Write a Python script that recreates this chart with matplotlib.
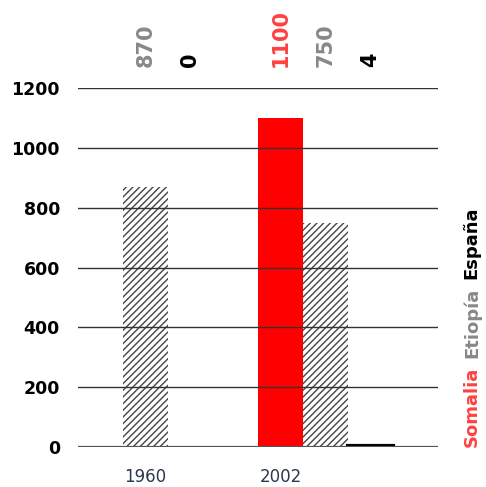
import matplotlib.pyplot as plt

# data
years = ["1960", "2002"]
countries = ["Somalia", "Etiopía", "España"]
values = {
    "1960": [None, 870, 0],  # no Somalia bar in 1960
    "2002": [1100, 750, 4],
}
yticks = [0, 200, 400, 600, 800, 1000, 1200]

bar_face = {"Somalia": "#ff0000", "Etiopía": "white", "España": "black"}
label_color = {"Somalia": "#ff4040", "Etiopía": "#888888", "España": "black"}

plt.rcParams["hatch.linewidth"] = 1.0

fig = plt.figure(figsize=(4.86, 4.87), dpi=100)
ax = fig.add_axes([0.1605, 0.0821, 0.7407, 0.7372])

group_start = [0.5, 4.5]
tick_pos = []
for g, year in enumerate(years):
    first = None
    for i, country in enumerate(countries):
        v = values[year][i]
        if v is None:
            continue
        x = group_start[g] + i
        if first is None:
            first = x
        if country == "Etiopía":
            ax.bar(x, v, width=1.0, color="white", edgecolor="#444444",
                   linewidth=0, hatch="/////", zorder=2)
        else:
            lw = 3 if (country == "España" and v > 0) else 0
            ax.bar(x, v, width=1.0, color=bar_face[country],
                   edgecolor=bar_face[country], linewidth=lw, zorder=2)
        # value label above the plot
        ax.annotate(str(v), xy=(x, 1.058), xycoords=("data", "axes fraction"),
                    rotation=90, ha="center", va="bottom", fontsize=15,
                    fontweight="bold", color=label_color[country],
                    annotation_clip=False)
    tick_pos.append(first)

# grid lines
for t in yticks:
    if t == 0:
        ax.axhline(t, color="#555555", lw=1.6, zorder=3)
    else:
        ax.axhline(t, color="#333333", lw=1.0, zorder=3)

ax.set_xlim(0, 8)
ax.set_ylim(0, 1200)
ax.set_yticks(yticks)
ax.set_yticklabels([str(t) for t in yticks], fontsize=12.5, fontweight="bold")
ax.set_xticks(tick_pos)
ax.set_xticklabels(years, fontsize=12, color="#2b3a4a")
ax.tick_params(axis="y", length=0, pad=13)
ax.tick_params(axis="x", length=0, pad=15)
for s in ax.spines.values():
    s.set_visible(False)

# legend written vertically on the right
prev = ax.annotate("Somalia", xy=(1.094, 0.0), xycoords="axes fraction",
                   rotation=90, ha="center", va="bottom", fontsize=13,
                   fontweight="bold", color=label_color["Somalia"],
                   annotation_clip=False)
for country in countries[1:]:
    prev = ax.annotate(country, xy=(0.5, 1.0), xycoords=prev,
                       xytext=(0, 9), textcoords="offset pixels",
                       rotation=90, ha="center", va="bottom", fontsize=13,
                       fontweight="bold", color=label_color[country],
                       annotation_clip=False)

fig.savefig("out.png", dpi=100)
